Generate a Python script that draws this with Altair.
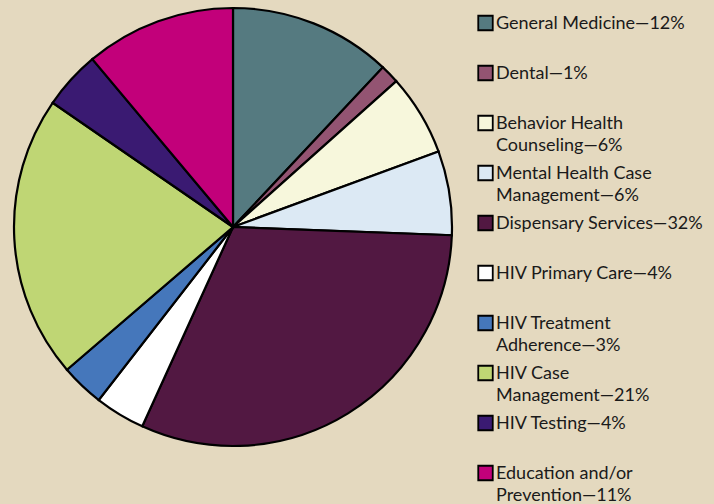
import altair as alt
import pandas as pd

categories = ["General Medicine", "Dental", "Behavior Health Counseling",
              "Mental Health Case Management", "Dispensary Services",
              "HIV Primary Care", "HIV Treatment Adherence", "HIV Case Management",
              "HIV Testing", "Education and/or Prevention"]
values = [12, 1.4, 6, 6.2, 31.2, 3.7, 3.2, 20.9, 4.3, 11.1]
labels = ["General Medicine\u201412%", "Dental\u20141%", "Behavior Health\nCounseling\u20146%",
          "Mental Health Case\nManagement\u20146%", "Dispensary Services\u201432%",
          "HIV Primary Care\u20144%", "HIV Treatment\nAdherence\u20143%",
          "HIV Case\nManagement\u201421%", "HIV Testing\u20144%",
          "Education and/or\nPrevention\u201411%"]
colors = ["#557a80", "#935472", "#f7f7dc", "#dce9f4", "#521842",
          "#ffffff", "#4577bb", "#bfd674", "#3a1a72", "#c2007a"]

df = pd.DataFrame({"category": categories, "value": values, "label": labels,
                   "idx": list(range(len(categories)))})

color_scale = alt.Scale(domain=categories, range=colors)

pie = alt.Chart(df).mark_arc(outerRadius=219, stroke="black", strokeWidth=2.2).encode(
    theta=alt.Theta("value:Q", stack=True),
    color=alt.Color("category:N", scale=color_scale, legend=None),
    order=alt.Order("idx:Q"),
).properties(width=466, height=454)

yenc = alt.Y("category:N", sort=categories, axis=None,
             scale=alt.Scale(type="point", padding=0, range=[23, 473]))

swatch = alt.Chart(df).mark_square(size=210, stroke="black", strokeWidth=1.8, opacity=1).encode(
    x=alt.value(19.5),
    y=yenc,
    color=alt.Color("category:N", scale=color_scale, legend=None),
)

text = alt.Chart(df).mark_text(align="left", baseline="alphabetic", dy=6, font="Lato",
                               fontSize=18, lineBreak="\n", lineHeight=22,
                               color="#1a1a1a").encode(
    x=alt.value(30),
    y=yenc,
    text="label:N",
)

legend = alt.layer(swatch, text).properties(width=248, height=504)

chart = alt.hconcat(pie, legend, spacing=0).properties(
    background="#e4d9bf", padding=0
).configure_view(stroke=None).configure_concat(spacing=0)

chart.save("out.html", embed_options={"renderer": "svg", "actions": False})
